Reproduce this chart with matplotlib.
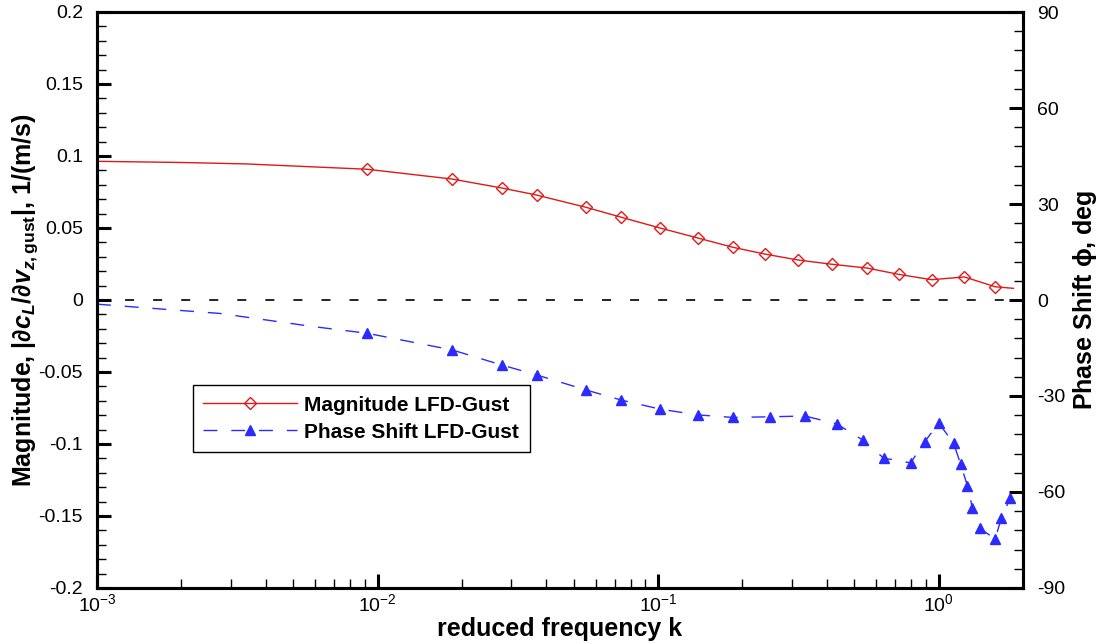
import matplotlib
matplotlib.use("Agg")
import matplotlib.pyplot as plt
from matplotlib.ticker import MultipleLocator, LogLocator, NullFormatter

plt.rcParams["font.family"] = ["Liberation Sans", "DejaVu Sans"]
plt.rcParams["mathtext.fontset"] = "custom"
plt.rcParams["mathtext.rm"] = "Liberation Sans"
plt.rcParams["mathtext.it"] = "Liberation Sans:italic"
plt.rcParams["mathtext.bf"] = "Liberation Sans:bold"
plt.rcParams["mathtext.bfit"] = "Liberation Sans:italic:bold"
plt.rcParams["mathtext.default"] = "regular"
plt.rcParams["axes.unicode_minus"] = False
plt.rcParams["lines.scale_dashes"] = False

# Magnitude |dcL/dvz,gust| vs reduced frequency (first 3 and last point carry no marker)
# fmt: off
k_mag = [0.001, 0.002, 0.0034, 0.00919, 0.01844, 0.02769, 0.03688, 0.05529, 0.07384,
         0.1016, 0.1384, 0.1849, 0.2403, 0.3148, 0.4172, 0.5556, 0.7208, 0.9443,
         1.237, 1.591, 1.849]
magnitude = [0.0963, 0.0955, 0.0945, 0.0908, 0.0840, 0.0778, 0.0729, 0.0644, 0.0575,
             0.0500, 0.0431, 0.0366, 0.0319, 0.0278, 0.0248, 0.0222, 0.0178, 0.0141,
             0.0160, 0.0092, 0.0081]

# Phase shift (deg); first 3 points carry no marker
k_phase = [0.001, 0.00274, 0.00589, 0.00919, 0.01844, 0.02769, 0.03688, 0.05529, 0.07384,
           0.1016, 0.1384, 0.1849, 0.2497, 0.3343, 0.4346, 0.5364, 0.6371, 0.7949,
           0.8917, 1.0, 1.131, 1.198, 1.268, 1.32, 1.40, 1.591, 1.675, 1.80]
phase = [-1.3, -4.2, -8.3, -10.4, -15.6, -20.3, -23.4, -28.1, -31.25,
         -34.1, -35.9, -36.7, -36.5, -36.25, -38.75, -43.75, -49.4, -50.9,
         -44.4, -38.4, -44.7, -51.25, -58.1, -65.0, -71.25, -74.7, -68.1, -61.9]
# fmt: on

red = "#e01818"
blue = "#2b2bff"

fig = plt.figure(figsize=(11.02, 6.44), dpi=100)
ax = fig.add_axes([97 / 1102, 56 / 644, 926 / 1102, 576 / 644])
ax2 = ax.twinx()

(l1,) = ax.plot(k_mag, magnitude, color=red, lw=1.0, marker="D", ms=6.6,
                mfc="none", mec=red, mew=1.0,
                markevery=list(range(3, len(k_mag) - 1)),
                label="Magnitude LFD-Gust")
ax.axhline(0, color="black", lw=1.2, ls=(0, (6.5, 13.7)))
(l2,) = ax2.plot(k_phase, phase, color=blue, lw=1.0, ls=(0, (10, 10)),
                 marker="^", ms=7.5, mfc=blue, mec=blue,
                 markevery=list(range(3, len(k_phase))),
                 label="Phase Shift LFD-Gust")

ax.set_xscale("log")
ax.set_xlim(1e-3, 2.0)
ax.set_ylim(-0.2, 0.2)
ax2.set_ylim(-90, 90)

ax.yaxis.set_major_locator(MultipleLocator(0.05))
ax.yaxis.set_minor_locator(MultipleLocator(0.01))
ax2.yaxis.set_major_locator(MultipleLocator(30))
ax2.yaxis.set_minor_locator(MultipleLocator(6))
ax.xaxis.set_minor_locator(LogLocator(base=10, subs=range(2, 10)))
ax.xaxis.set_minor_formatter(NullFormatter())
ax.yaxis.set_major_formatter(plt.FuncFormatter(lambda v, p: f"{v:g}" if abs(v) > 1e-9 else "0"))

for a in (ax, ax2):
    for s in a.spines.values():
        s.set_linewidth(2.2)
    a.tick_params(which="major", direction="in", length=10, width=2.2, labelsize=14)
    a.tick_params(which="minor", direction="in", length=6.5, width=1.0)
ax.tick_params(axis="x", which="both", top=False, pad=4)
ax.tick_params(axis="y", which="both", right=False, pad=10)
ax2.tick_params(axis="y", which="both", left=False, pad=10)

ax.set_xlabel("reduced frequency k", fontsize=18, fontweight="bold")
ax.set_ylabel(r"Magnitude, $|\partial \mathbfit{c}_{\mathbfit{L}}/\partial \mathbfit{v}_{\mathbfit{z},\mathbf{gust}}|$, 1/(m/s)",
              fontsize=18, fontweight="bold")
ax2.set_ylabel(r"Phase Shift $\phi$, deg", fontsize=18, fontweight="bold")
ax.xaxis.set_label_coords(0.5, -0.05)
ax.yaxis.set_label_coords(-0.062, 0.5)
ax2.yaxis.set_label_coords(1.052, 0.5)

leg = ax.legend(handles=[l1, l2], loc="upper left", bbox_to_anchor=(0.1037, 0.352),
                borderaxespad=0, fancybox=False, framealpha=1, edgecolor="black",
                prop={"weight": "bold", "size": 15}, handlelength=4.5,
                handletextpad=0.35, labelspacing=0.38, borderpad=0.5)
leg.get_frame().set_linewidth(1.0)
ax.set_zorder(ax2.get_zorder() + 1)
ax.patch.set_visible(False)

fig.savefig("out.png", dpi=100)
